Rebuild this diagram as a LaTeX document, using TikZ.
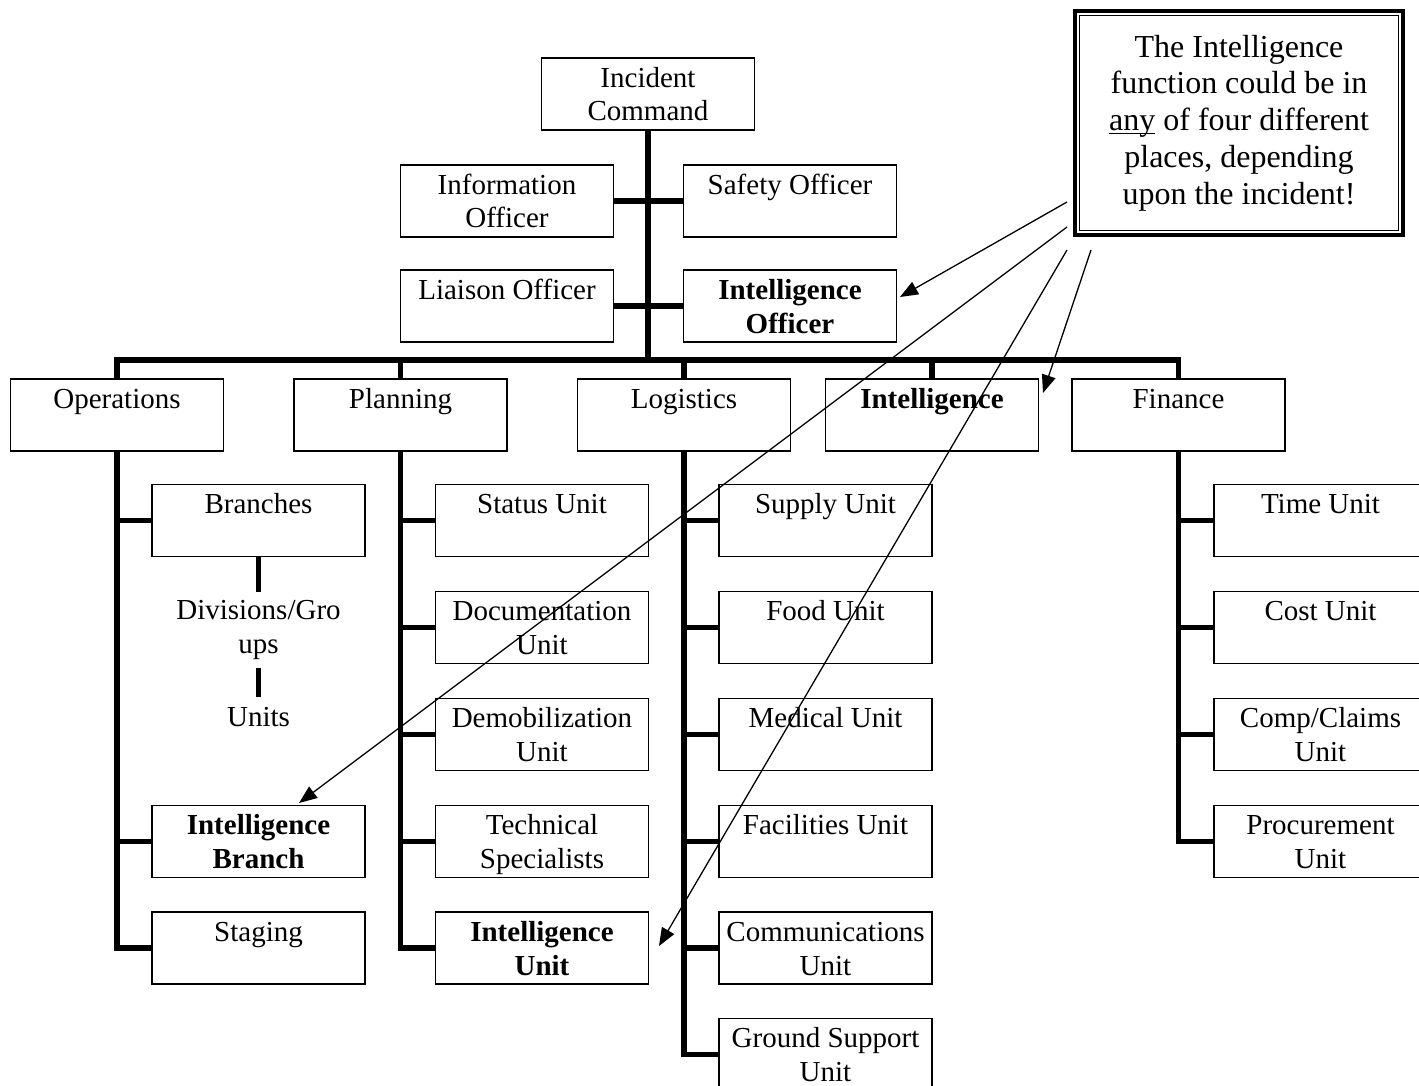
\documentclass[tikz,border=0pt]{standalone}
\usepackage{fontspec}
\setmainfont{Liberation Serif}
\usetikzlibrary{arrows.meta}

% text of a unit box: top-aligned, centred lines
\newcommand{\bx}[1]{\parbox[c][36pt][t]{106.5pt}{\centering\rule{0pt}{14.5pt}#1}}
% underline set close to the baseline
\newcommand{\ulw}[1]{\setbox0\hbox{#1}\rlap{\rule[-1.8pt]{\wd0}{0.7pt}}#1}

\begin{document}
\begin{tikzpicture}[x=0.5pt, y=-0.5pt,
  box/.style={draw, line width=0.75pt, inner sep=0pt, font=\fontsize{14.5}{17}\selectfont},
  lbl/.style={inner xsep=0pt, inner ysep=4pt, align=center, anchor=north, font=\fontsize{14.5}{17}\selectfont},
  conn/.style={line width=2.8pt, line join=miter},
  ptr/.style={line width=0.65pt, -{Triangle[length=9pt,width=7pt]}},
  note/.style={draw, line width=1.6pt, inner sep=0pt, minimum width=164pt, minimum height=112pt,
    align=center, font=\fontsize{16}{18.4}\selectfont}]
\useasboundingbox (0,0) rectangle (1419,1086);
\clip (0,0) rectangle (1419,1086);

% command staff
\node[box] (ic) at (648,94) {\bx{Incident\\Command}};
\node[box] (info) at (507,201) {\bx{Information\\Officer}};
\node[box] (safety) at (790,201) {\bx{Safety Officer}};
\node[box] (liaison) at (507,306) {\bx{Liaison Officer}};
\node[box] (intoff) at (790,306) {\bx{\textbf{Intelligence}\\\textbf{Officer}}};
\coordinate (bar) at (648,360);

% sections
\node[box] (ops) at (117,415) {\bx{Operations}};
\node[box] (plan) at (400.5,415) {\bx{Planning}};
\node[box] (log) at (684,415) {\bx{Logistics}};
\node[box] (intel) at (932,415) {\bx{\textbf{Intelligence}}};
\node[box] (fin) at (1178.5,415) {\bx{Finance}};

% operations
\node[box] (branches) at (258.5,520.5) {\bx{Branches}};
\node[lbl] (divs) at (258.5,592) {Divisions/Gro\\ups};
\node[lbl, inner ysep=5pt] (units) at (258.5,697) {Units};
\node[box] (intbranch) at (258.5,841.5) {\bx{\textbf{Intelligence}\\\textbf{Branch}}};
\node[box] (staging) at (258.5,948) {\bx{Staging}};

% planning
\node[box] (status) at (542,520.5) {\bx{Status Unit}};
\node[box] (docu) at (542,627.5) {\bx{Documentation\\Unit}};
\node[box] (demob) at (542,734.5) {\bx{Demobilization\\Unit}};
\node[box] (techspec) at (542,841.5) {\bx{Technical\\Specialists}};
\node[box] (intunit) at (542,948) {\bx{\textbf{Intelligence}\\\textbf{Unit}}};

% logistics
\node[box] (supply) at (825.5,520.5) {\bx{Supply Unit}};
\node[box] (food) at (825.5,627.5) {\bx{Food Unit}};
\node[box] (medical) at (825.5,734.5) {\bx{Medical Unit}};
\node[box] (facil) at (825.5,841.5) {\bx{Facilities Unit}};
\node[box] (comms) at (825.5,948) {\bx{Communications\\Unit}};
\node[box] (ground) at (825.5,1054.5) {\bx{Ground Support\\Unit}};

% finance
\node[box] (time) at (1320.5,520.5) {\bx{Time Unit}};
\node[box] (cost) at (1320.5,627.5) {\bx{Cost Unit}};
\node[box] (claims) at (1320.5,734.5) {\bx{Comp/Claims\\Unit}};
\node[box] (procure) at (1320.5,841.5) {\bx{Procurement\\Unit}};

% connectors: command and staff
\draw[conn] (ic.south) -- (ic.south |- bar);
\draw[conn] (info.east) -- (safety.west);
\draw[conn] (liaison.east) -- (intoff.west);
\draw[conn] (ops.north) |- (fin.north |- bar) -- (fin.north);
\foreach \n in {plan,log,intel} \draw[conn] (\n.north) -- (\n.north |- bar);

% connectors: operations
\draw[conn] (ops.south) |- (staging.west);
\foreach \n in {branches,intbranch} \draw[conn] (ops.south |- \n.west) -- (\n.west);
\draw[conn] (branches.south) -- (divs.north);
\draw[conn] (divs.south) -- (units.north);

% connectors: planning
\draw[conn] (plan.south) |- (intunit.west);
\foreach \n in {status,docu,demob,techspec} \draw[conn] (plan.south |- \n.west) -- (\n.west);

% connectors: logistics
\draw[conn] (log.south) |- (ground.west);
\foreach \n in {supply,food,medical,facil,comms} \draw[conn] (log.south |- \n.west) -- (\n.west);

% connectors: finance
\draw[conn] (fin.south) |- (procure.west);
\foreach \n in {time,cost,claims} \draw[conn] (fin.south |- \n.west) -- (\n.west);

% note with thick-thin double frame
\node[note] (note) at (1239,123) {The Intelligence\\function could be in\\\ulw{any} of four different\\places, depending\\upon the incident!};
\draw[line width=0.7pt] ([shift={(3pt,-3pt)}]note.north west) rectangle ([shift={(-3pt,3pt)}]note.south east);

% pointers from the note
\coordinate (s1) at (1067,202);
\coordinate (s2) at (1067,227);
\coordinate (s3) at (1067,250);
\coordinate (s4) at (1091,250);
\coordinate (e1) at (900,297);
\coordinate (e2) at (299,803);
\coordinate (e3) at (659,946);
\coordinate (e4) at (1043,393);
\draw[ptr] (s1) -- (e1);
\draw[ptr] (s2) -- (e2);
\draw[ptr] (s3) -- (e3);
\draw[ptr] (s4) -- (e4);
\end{tikzpicture}
\end{document}
